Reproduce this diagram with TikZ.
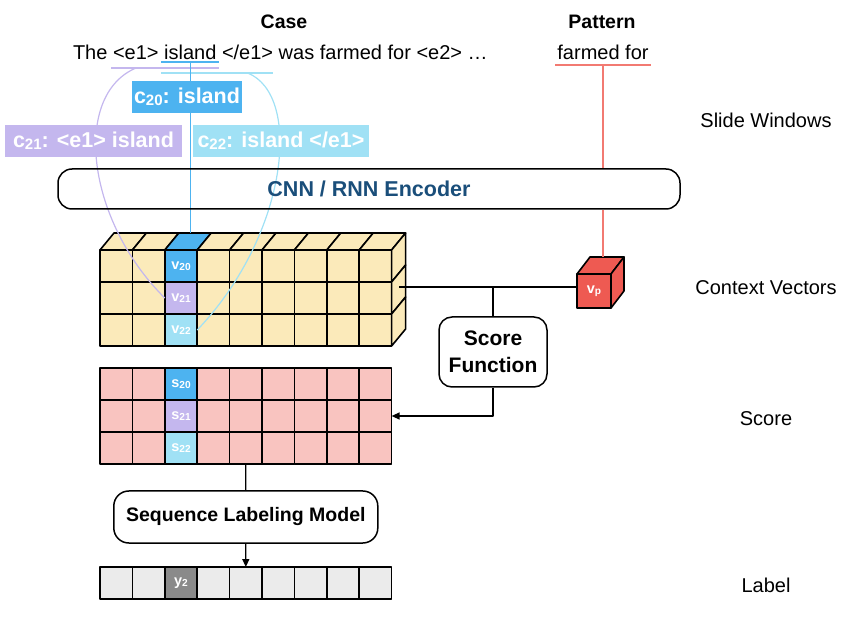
\documentclass[tikz,border=0pt]{standalone}
\usepackage{fontspec}
\usepackage{graphicx}
\setmainfont{Liberation Sans}
\usetikzlibrary{calc,arrows.meta}

\definecolor{cblue}{RGB}{77,179,240}
\definecolor{cpur}{RGB}{196,183,238}
\definecolor{ccyan}{RGB}{160,225,245}
\definecolor{cyel}{RGB}{251,234,186}
\definecolor{cpink}{RGB}{249,196,192}
\definecolor{clgray}{RGB}{235,235,235}
\definecolor{cdgray}{RGB}{138,138,138}
\definecolor{cred}{RGB}{238,90,82}
\definecolor{credl}{RGB}{242,122,114}
\definecolor{cenc}{RGB}{26,78,122}

\newcommand{\sbx}[1]{\raisebox{-0.08em}{\scalebox{0.7}{#1}}}
\newcommand{\cellt}[2]{{\fontsize{14.5}{14.5}\selectfont\bfseries #1\sbx{#2}}}

\tikzset{
  txt/.style={font=\fontsize{20}{24}\selectfont, inner sep=0pt, outer sep=0pt},
  head/.style={font=\fontsize{19.5}{24}\selectfont\bfseries, inner sep=0pt},
  side/.style={font=\fontsize{20}{24}\selectfont, inner sep=0pt, anchor=base},
  cell/.style={draw=black, line width=1.6pt, minimum width=32.4pt, minimum height=32pt,
    inner sep=0pt, outer sep=0pt, text=white},
  lab/.style={inner sep=0pt, outer sep=0pt, text=white,
    font=\fontsize{21.5}{24}\selectfont\bfseries, minimum height=32pt},
  rbox/.style={draw=black, line width=1.5pt, rounded corners=13pt, inner sep=0pt,
    font=\fontsize{20}{24}\selectfont\bfseries},
  conn/.style={draw=black, line width=1.3pt},
  tip/.style={-{Triangle[length=8pt,width=7pt]}},
}

\begin{document}
\begin{tikzpicture}[x=1pt,y=-1pt,line join=round]
\useasboundingbox (0,0) rectangle (855,620);

% ---------- headings ----------
\node[head, anchor=base] (case) at (284,29) {Case};
\node[head, anchor=base] (pattern) at (602,29) {Pattern};

% ---------- sentence ----------
\node[txt, anchor=base west] (w1) at (73,60) {The};
\node[txt, anchor=base west] (w2) at ([xshift=5.56pt]w1.base east) {<e1>};
\node[txt, anchor=base west] (w3) at ([xshift=5.56pt]w2.base east) {island};
\node[txt, anchor=base west] (w4) at ([xshift=5.56pt]w3.base east) {</e1>};
\node[txt, anchor=base west] (w5) at ([xshift=5.56pt]w4.base east) {was farmed for <e2> …};

\node[txt, anchor=base] (pat) at (603,60) {farmed for};

% underlines
\draw[cblue, line width=1.2pt] ([xshift=-3pt,yshift=-2pt]w3.base west) -- ([xshift=3pt,yshift=-2pt]w3.base east);
\draw[cpur, line width=1.2pt] ([xshift=-2pt,yshift=-8pt]w2.base west) -- ([xshift=3pt,yshift=-8pt]w3.base east);
\draw[ccyan, line width=1.2pt] ([xshift=-3pt,yshift=-13pt]w3.base west) -- ([xshift=0pt,yshift=-13pt]w4.base east);
\draw[credl, line width=1.3pt] ([xshift=-2pt,yshift=-5pt]pat.base west) -- ([xshift=2pt,yshift=-5pt]pat.base east);
\coordinate (ub) at ([yshift=-2pt]w3.base);
\coordinate (up) at ([xshift=23pt,yshift=-8pt]w2.base west);
\coordinate (uc) at ([yshift=-13pt]w4.base);
\coordinate (ur) at ([yshift=-5pt]pat.base);

% ---------- context vectors ----------
\foreach \c in {0,1,3,4,5,6,7,8}
  \foreach \r in {0,1,2}
    \node[cell, fill=cyel] (v-\r-\c) at ({116.2+32.4*\c},{266+32*\r}) {};
\node[cell, fill=cblue] (v-0-2) at (181,266) {\cellt{v}{20}};
\node[cell, fill=cpur]  (v-1-2) at (181,298) {\cellt{v}{21}};
\node[cell, fill=ccyan] (v-2-2) at (181,330) {\cellt{v}{22}};
\foreach \c/\f in {0/cyel,1/cyel,2/cblue,3/cyel,4/cyel,5/cyel,6/cyel,7/cyel,8/cyel}
  \filldraw[fill=\f, draw=black, line width=1.6pt] (v-0-\c.north west) -- ++(14,-17)
    -- ($(v-0-\c.north east)+(14,-17)$) -- (v-0-\c.north east) -- cycle;
\foreach \r in {0,1,2}
  \filldraw[fill=cyel, draw=black, line width=1.6pt] (v-\r-8.north east) -- ++(14,-17)
    -- ($(v-\r-8.south east)+(14,-17)$) -- (v-\r-8.south east) -- cycle;
\coordinate (top20) at ($(v-0-2.north)+(7,-17)$);

% ---------- window connectors ----------
\draw[cblue, line width=1.3pt] (ub) -- (ub |- top20);
\draw[cpur, line width=1.2pt] (up) .. controls (72,95) and (86,220) .. (v-1-2.west);
\draw[ccyan, line width=1.2pt] (uc) .. controls (303,95) and (288,235) .. (v-2-2.east);

% ---------- slide windows ----------
\node[lab, fill=cblue, minimum width=110pt] (c20) at (187,97) {c\sbx{20}: island};
\node[lab, fill=cpur,  minimum width=177pt] (c21) at (93.5,141) {c\sbx{21}: <e1> island};
\node[lab, fill=ccyan, minimum width=176pt] (c22) at (281,141) {c\sbx{22}: island </e1>};

% ---------- encoder ----------
\node[rbox, minimum width=622pt, minimum height=40pt, rounded corners=14pt,
  text=cenc, font=\fontsize{21.5}{24}\selectfont\bfseries] (enc) at (369,189) {CNN / RNN Encoder};

% ---------- pattern vector ----------
\node[draw=black, line width=1.6pt, fill=cred, minimum width=34pt, minimum height=34pt,
  inner sep=0pt, outer sep=0pt, text=white] (vp) at (594,291) {\cellt{v}{p}};
\filldraw[fill=cred, draw=black, line width=1.6pt] (vp.north west) -- ++(13,-17)
  -- ($(vp.north east)+(13,-17)$) -- (vp.north east) -- cycle;
\filldraw[fill=cred, draw=black, line width=1.6pt] (vp.north east) -- ++(13,-17)
  -- ($(vp.south east)+(13,-17)$) -- (vp.south east) -- cycle;
\coordinate (vptop) at ($(vp.north)+(6.5,-17)$);
\draw[credl, line width=1.3pt] (ur) -- (ur |- enc.north);
\draw[credl, line width=1.3pt] (ur |- enc.south) -- (ur |- vptop);

% ---------- score function ----------
\coordinate (rf) at (399,287);
\draw[conn] (rf) -- (rf -| vp.west);
\node[rbox, minimum width=108pt, minimum height=70pt, rounded corners=13pt, align=center,
  font=\fontsize{21}{27}\selectfont\bfseries] (sf) at (493,352) {Score\\Function};
\draw[conn] (sf.north) -- (sf.north |- rf);

% ---------- score grid ----------
\foreach \c in {0,1,3,4,5,6,7,8}
  \foreach \r in {0,1,2}
    \node[cell, fill=cpink] (s-\r-\c) at ({116.2+32.4*\c},{384+32*\r}) {};
\node[cell, fill=cblue] (s-0-2) at (181,384) {\cellt{s}{20}};
\node[cell, fill=cpur]  (s-1-2) at (181,416) {\cellt{s}{21}};
\node[cell, fill=ccyan] (s-2-2) at (181,448) {\cellt{s}{22}};
\draw[conn, tip] (sf.south) |- (s-1-8.east);

% ---------- sequence labeling ----------
\node[rbox, minimum width=264pt, minimum height=52pt, rounded corners=15pt,
  font=\fontsize{19.5}{24}\selectfont\bfseries] (seq) at (245.8,517) {Sequence Labeling Model};
\draw[conn] (s-2-4.south) -- (seq.north);

% ---------- label row ----------
\foreach \c in {0,1,3,4,5,6,7,8}
  \node[cell, fill=clgray] (l-\c) at ({116.2+32.4*\c},583) {};
\node[cell, fill=cdgray] (l-2) at (181,583) {\cellt{y}{2}};
\draw[conn, tip] (seq.south) -- (l-4.north);

% ---------- side labels ----------
\node[side] (sw) at (766,128) {Slide Windows};
\node[side] (cv) at (766,295) {Context Vectors};
\node[side] (sc) at (766,426) {Score};
\node[side] (lb) at (766,592) {Label};
\end{tikzpicture}
\end{document}
